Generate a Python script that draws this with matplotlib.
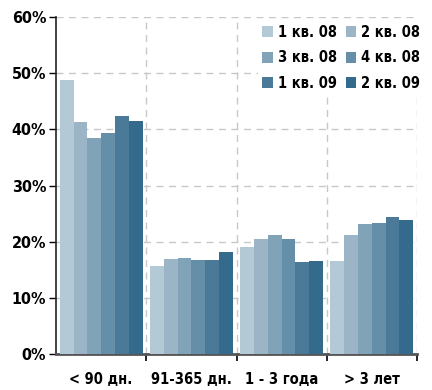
import numpy as np
import matplotlib
matplotlib.use('Agg')
import matplotlib.pyplot as plt
from matplotlib.ticker import FuncFormatter, MultipleLocator

plt.rcParams['font.family'] = ['DejaVu Sans']
plt.rcParams['font.stretch'] = 'condensed'
plt.rcParams['font.weight'] = 'bold'

groups = ['< 90 дн.', '91-365 дн.', '1 - 3 года', '> 3 лет']
quarters = ['1 кв. 08', '2 кв. 08', '3 кв. 08', '4 кв. 08', '1 кв. 09', '2 кв. 09']
q1_08 = [48.8, 15.7, 19.0, 16.6]
q2_08 = [41.3, 16.9, 20.5, 21.2]
q3_08 = [38.5, 17.1, 21.2, 23.1]
q4_08 = [39.3, 16.7, 20.5, 23.3]
q1_09 = [42.4, 16.7, 16.4, 24.4]
q2_09 = [41.5, 18.1, 16.6, 23.9]
series = [q1_08, q2_08, q3_08, q4_08, q1_09, q2_09]
colors = ['#b4c9d6', '#9bb5c6', '#80a3b7', '#658fa8', '#4b7a98', '#346a8c']

fig = plt.figure(figsize=(4.32, 3.90), dpi=100)
ax = fig.add_axes([56 / 432, 1 - 354 / 390, (417 - 56) / 432, (354 - 17) / 390])

x = np.arange(len(groups))
w = 0.153
bars = []
for i, (vals, c) in enumerate(zip(series, colors)):
    bars.append(ax.bar(x + (i - 2.5) * w, vals, width=w, color=c, label=quarters[i], zorder=3))

ax.set_xlim(-0.5, 3.5)
ax.set_ylim(0, 60)
ax.yaxis.set_major_locator(MultipleLocator(10))
ax.yaxis.set_major_formatter(FuncFormatter(lambda v, p: f'{v:.0f}%'))
ax.set_xticks(x)
ax.set_xticklabels(groups)
ax.set_xticks(np.arange(0.5, 4, 1), minor=True)
ax.tick_params(axis='x', which='major', length=0, pad=13, labelsize=10.5)
ax.tick_params(axis='x', which='minor', length=5, width=1.2, direction='out')
ax.tick_params(axis='y', length=5, width=1, labelsize=11.5, pad=2)

ax.grid(axis='y', which='major', color='#c8c8c8', linestyle=(0, (5, 4)), linewidth=1, zorder=0)
ax.grid(axis='x', which='minor', color='#c8c8c8', linestyle=(0, (5, 4)), linewidth=1, zorder=0)

for s in ['top', 'right']:
    ax.spines[s].set_visible(False)
ax.spines['left'].set_color('#222222')
ax.spines['left'].set_linewidth(1.2)
ax.spines['bottom'].set_color('#555555')
ax.spines['bottom'].set_linewidth(2)

# legend filled row by row, white box over the grid
order = [0, 2, 4, 1, 3, 5]
leg = ax.legend([bars[k] for k in order], [quarters[k] for k in order],
                ncol=2, loc='upper right', bbox_to_anchor=(1.02, 0.99), frameon=True,
                fancybox=False, facecolor='white', edgecolor='none', framealpha=1,
                fontsize=10.5, handlelength=0.75, handleheight=0.75, handletextpad=0.3,
                columnspacing=0.6, labelspacing=0.72, borderpad=0.3, borderaxespad=0.0)
leg.set_zorder(5)

fig.savefig('out.png', dpi=100)
